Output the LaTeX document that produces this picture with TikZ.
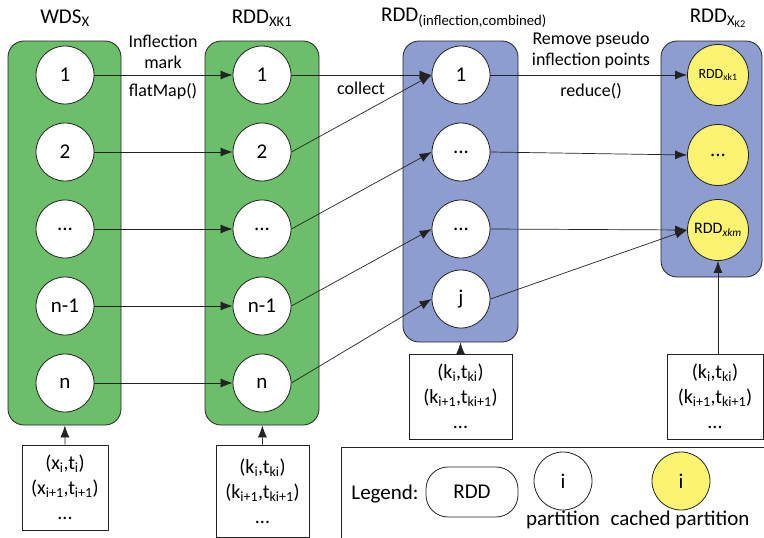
\documentclass[tikz,border=0pt]{standalone}
\usepackage{fontspec}
\setmainfont{Carlito}
\usetikzlibrary{arrows.meta}
\definecolor{rddgreen}{RGB}{108,190,106}
\definecolor{rddblue}{RGB}{142,157,207}
\definecolor{cacheyellow}{RGB}{252,244,113}
\definecolor{edge}{RGB}{35,35,35}
\newcommand{\sbs}[1]{\textsubscript{#1}}
\begin{document}
\begin{tikzpicture}[x=1pt,y=-1pt,
  font=\fontsize{21}{25}\selectfont,
  rddbox/.style={draw=edge, line width=0.8pt, rounded corners=16pt},
  part/.style={circle, draw=edge, line width=0.8pt, fill=white, minimum size=58pt, inner sep=0pt},
  cached/.style={part, fill=cacheyellow, minimum size=61pt},
  databox/.style={draw=edge, line width=0.8pt, fill=white, align=center, inner sep=0pt,
    font=\fontsize{20}{24}\selectfont},
  flow/.style={draw=edge, line width=0.7pt, -{Latex[length=12pt,width=9pt]}},
  lbl/.style={font=\fontsize{18}{21}\selectfont, align=center},
  ttl/.style={font=\fontsize{21}{25}\selectfont}]
\useasboundingbox (0,0) rectangle (764,538);

% RDD containers
\node[rddbox, fill=rddgreen, minimum width=113pt, minimum height=384pt] (wds) at (64.5,233) {};
\node[rddbox, fill=rddgreen, minimum width=114pt, minimum height=384pt] (rk1) at (262,233) {};
\node[rddbox, fill=rddblue, minimum width=115pt, minimum height=301pt] (ric) at (460.5,191.5) {};
\node[rddbox, fill=rddblue, minimum width=101pt, minimum height=236pt] (rk2) at (711.5,159) {};

% titles
\node[ttl] (t1) at (65,18) {WDS\sbs{X}};
\node[ttl] (t2) at (262,18) {RDD\sbs{XK1}};
\node[ttl] (t3) at (464,18) {RDD\sbs{(inflection,combined)}};
\node[ttl] (t4) at (718,18) {RDD\sbs{X\sbs{K2}}};

% partitions of WDS_X
\node[part] (a1) at (65,75) {1};
\node[part] (a2) at (65,152) {2};
\node[part] (a3) at (65,229) {...};
\node[part] (a4) at (65,306) {n-1};
\node[part] (a5) at (65,383) {n};

% partitions of RDD_XK1
\node[part] (b1) at (262,75) {1};
\node[part] (b2) at (262,152) {2};
\node[part] (b3) at (262,229) {...};
\node[part] (b4) at (262,306) {n-1};
\node[part] (b5) at (262,383) {n};

% partitions of RDD_(inflection,combined)
\node[part] (c1) at (461,75) {1};
\node[part] (c2) at (461,152) {...};
\node[part] (c3) at (461,229) {...};
\node[part] (c4) at (461,299) {j};

% cached partitions of RDD_XK2
\node[cached] (d1) at (718,75) {\fontsize{14}{16}\selectfont RDD\sbs{xk1}};
\node[cached] (d2) at (718,155) {...};
\node[cached] (d3) at (718,230) {\fontsize{16}{18}\selectfont RDD\sbs{\itshape xkm}};

% operation labels
\node[lbl] (op1) at (163,52) {Inflection\\mark};
\node[lbl] (op1b) at (163,91) {flatMap()};
\node[lbl] (op2) at (361,88) {collect};
\node[lbl] (op3) at (591,50) {Remove pseudo\\inflection points};
\node[lbl] (op3b) at (591,91) {reduce()};

% flatMap
\foreach \i in {1,...,5} \draw[flow] (a\i) -- (b\i);
% collect
\draw[flow] (b1) -- (c1);
\draw[flow] (b2.east) -- (c1.west);
\draw[flow] (b3.east) -- (c2.west);
\draw[flow] (b4.east) -- (c3.west);
\draw[flow] (b5.east) -- (c4.west);
% reduce
\draw[flow] (c1) -- (d1);
\draw[flow] (c2.east) -- (d2.west);
\draw[flow] (c3.east) -- (d3.west);
\draw[flow] (c4.east) -- (d3.west);

% input records
\node[databox, minimum width=86pt, minimum height=85pt] (in1) at (65,487.5)
  {(x\sbs{i},t\sbs{i})\\[1pt](x\sbs{i+1},t\sbs{i+1})\\[1pt]...};
\node[databox, minimum width=93pt, minimum height=92pt] (in2) at (262.5,491)
  {(k\sbs{i},t\sbs{ki})\\[1pt](k\sbs{i+1},t\sbs{ki+1})\\[1pt]...};
\node[databox, minimum width=103pt, minimum height=85pt] (in3) at (460.5,396.5)
  {(k\sbs{i},t\sbs{ki})\\[1pt](k\sbs{i+1},t\sbs{ki+1})\\[1pt]...};
\node[databox, minimum width=96pt, minimum height=85pt] (in4) at (715,396.5)
  {(k\sbs{i},t\sbs{ki})\\[1pt](k\sbs{i+1},t\sbs{ki+1})\\[1pt]...};
\draw[flow] (in1) -- (wds);
\draw[flow] (in2) -- (rk1);
\draw[flow] (in3.north) -- (ric.south);
\draw[flow] (in4.north -| d3) -- (d3.south);

% legend
\draw[draw=edge, line width=0.8pt] (341,447) rectangle (775,548);
\node (lg) at (385,494) {Legend:};
\node[draw=edge, line width=0.8pt, rounded corners=22pt, minimum width=92pt, minimum height=50pt] (lrdd) at (472,492) {RDD};
\node[part] (lpart) at (563,481) {i};
\node[cached, minimum size=58pt] (lcache) at (681,481) {i};
\node (lptxt) at (563,520) {partition};
\node (lctxt) at (680,520) {cached partition};
\end{tikzpicture}
\end{document}
